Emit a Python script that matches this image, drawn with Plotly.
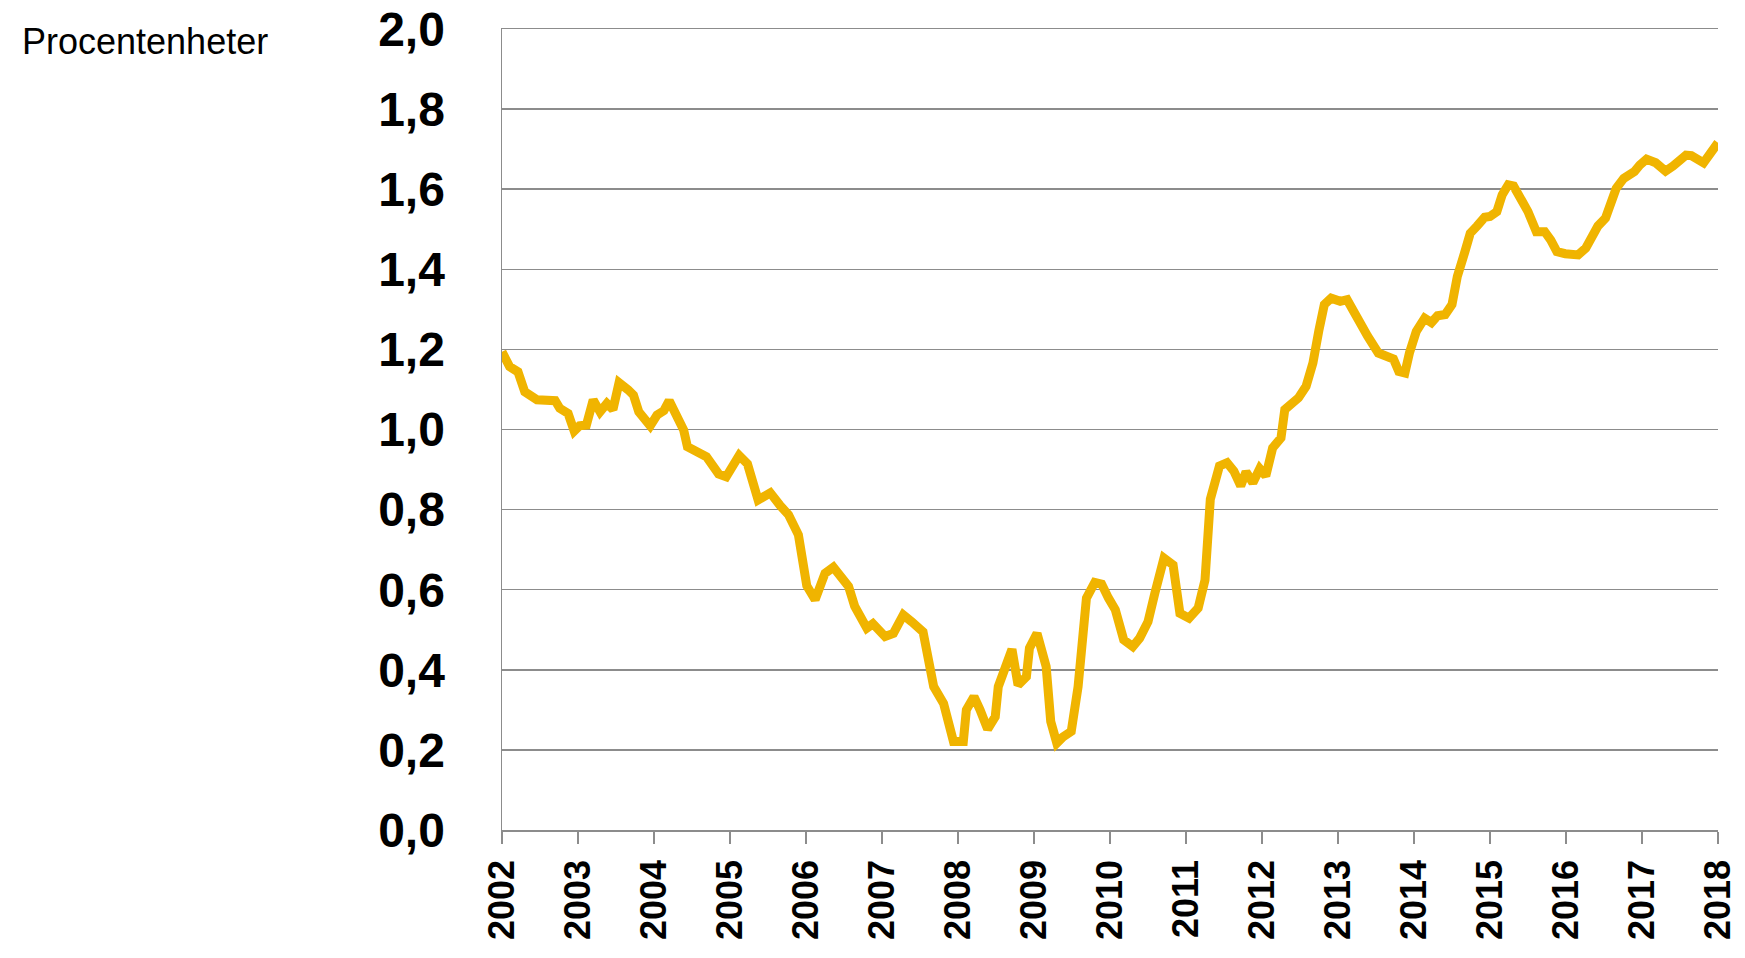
import plotly.graph_objects as go

# Decimal-year positions and values (percentage points)
years = [
    2002.00, 2002.10, 2002.21, 2002.30, 2002.46, 2002.70, 2002.76, 2002.87, 2002.95,
    2003.02, 2003.11, 2003.20, 2003.29, 2003.38, 2003.46, 2003.54, 2003.66, 2003.73, 2003.80, 2003.95,
    2004.04, 2004.13, 2004.20, 2004.28, 2004.39, 2004.44, 2004.58, 2004.69, 2004.85, 2004.95,
    2005.12, 2005.23, 2005.37, 2005.53, 2005.66, 2005.77, 2005.90,
    2006.01, 2006.12, 2006.25, 2006.36, 2006.56, 2006.64, 2006.80, 2006.88,
    2007.04, 2007.15, 2007.28, 2007.39, 2007.54, 2007.68, 2007.81, 2007.94,
    2008.07, 2008.11, 2008.21, 2008.29, 2008.39, 2008.49, 2008.53, 2008.71, 2008.79, 2008.90, 2008.94,
    2009.04, 2009.16, 2009.22, 2009.30, 2009.38, 2009.49, 2009.58, 2009.69, 2009.80, 2009.89, 2009.98,
    2010.07, 2010.18, 2010.30, 2010.39, 2010.50, 2010.59, 2010.71, 2010.83, 2010.92,
    2011.04, 2011.16, 2011.25, 2011.32, 2011.44, 2011.54, 2011.63, 2011.72, 2011.79, 2011.88, 2011.97,
    2012.05, 2012.14, 2012.25, 2012.30, 2012.37, 2012.48, 2012.58, 2012.67, 2012.75, 2012.82, 2012.91,
    2013.03, 2013.12, 2013.20, 2013.29, 2013.39, 2013.53, 2013.65, 2013.73, 2013.80, 2013.88, 2013.94,
    2014.03, 2014.14, 2014.23, 2014.31, 2014.41, 2014.50, 2014.57, 2014.67, 2014.74, 2014.83, 2014.93,
    2015.00, 2015.09, 2015.16, 2015.24, 2015.31, 2015.40, 2015.50, 2015.61, 2015.72, 2015.80, 2015.88, 2015.99,
    2016.09, 2016.16, 2016.26, 2016.33, 2016.42, 2016.52, 2016.59, 2016.66, 2016.76, 2016.90, 2016.97,
    2017.06, 2017.18, 2017.31, 2017.41, 2017.49, 2017.58, 2017.65, 2017.75, 2017.81, 2018.00,
]
values = [
    1.194, 1.157, 1.144, 1.094, 1.074, 1.072, 1.053, 1.040, 0.996,
    1.009, 1.011, 1.074, 1.044, 1.065, 1.050, 1.117, 1.099, 1.086, 1.044, 1.009,
    1.036, 1.047, 1.072, 1.036, 0.999, 0.957, 0.942, 0.932, 0.889, 0.882,
    0.935, 0.914, 0.824, 0.842, 0.810, 0.787, 0.737,
    0.610, 0.575, 0.641, 0.656, 0.608, 0.559, 0.504, 0.515,
    0.483, 0.491, 0.537, 0.520, 0.495, 0.358, 0.316, 0.221,
    0.221, 0.300, 0.333, 0.300, 0.252, 0.283, 0.358, 0.451, 0.362, 0.383, 0.454,
    0.491, 0.408, 0.271, 0.217, 0.232, 0.246, 0.358, 0.579, 0.618, 0.614, 0.579,
    0.550, 0.475, 0.458, 0.479, 0.520, 0.591, 0.679, 0.662, 0.541,
    0.529, 0.554, 0.624, 0.826, 0.909, 0.917, 0.896, 0.859, 0.894, 0.867, 0.902,
    0.884, 0.954, 0.979, 1.050, 1.060, 1.079, 1.108, 1.166, 1.249, 1.312, 1.328,
    1.320, 1.324, 1.295, 1.267, 1.233, 1.191, 1.179, 1.176, 1.145, 1.141, 1.191,
    1.245, 1.278, 1.267, 1.284, 1.287, 1.312, 1.382, 1.444, 1.490, 1.508, 1.530,
    1.532, 1.544, 1.586, 1.611, 1.608, 1.582, 1.544, 1.494, 1.494, 1.473, 1.444, 1.439,
    1.434, 1.436, 1.453, 1.482, 1.508, 1.528, 1.561, 1.602, 1.627, 1.644, 1.660,
    1.675, 1.666, 1.645, 1.658, 1.669, 1.685, 1.684, 1.673, 1.666, 1.716,
]

x_tick_vals = list(range(2002, 2019))
x_tick_text = [str(y) for y in x_tick_vals]
y_tick_vals = [0.0, 0.2, 0.4, 0.6, 0.8, 1.0, 1.2, 1.4, 1.6, 1.8, 2.0]
unit_label = "Procentenheter"

LINE_COLOR = "#F0B400"
GRID_COLOR = "#8C8C8C"
FONT = "Liberation Sans, Arial, sans-serif"

fig = go.Figure()
fig.add_trace(go.Scatter(
    x=years, y=values, mode="lines",
    line=dict(color=LINE_COLOR, width=9),
    showlegend=False, hoverinfo="skip",
))

fig.update_layout(
    width=1745, height=958,
    margin=dict(l=502, r=27, t=29, b=128),
    paper_bgcolor="white", plot_bgcolor="white",
    separators=", ",
    font=dict(family=FONT, color="black"),
    xaxis=dict(
        range=[2002, 2018],
        tickmode="array", tickvals=x_tick_vals, ticktext=x_tick_text,
        tickangle=-90,
        tickfont=dict(family=FONT, size=36, color="black", weight="bold"),
        ticks="outside", ticklen=12, tickwidth=1.5, tickcolor=GRID_COLOR,
        showline=True, linecolor=GRID_COLOR, linewidth=1.5, mirror=True,
        showgrid=False, zeroline=False,
        ticklabelstandoff=2,
        ticklabeloverflow="allow",
        automargin=False,
    ),
    yaxis=dict(
        range=[0, 2.0],
        tickmode="array", tickvals=y_tick_vals,
        tickformat=".1f",
        tickfont=dict(family=FONT, size=48, color="black", weight="bold"),
        ticks="",
        showline=True, linecolor=GRID_COLOR, linewidth=1.5,
        showgrid=True, gridcolor=GRID_COLOR, gridwidth=1.5,
        zeroline=False,
        ticklabelstandoff=46,
        ticklabeloverflow="allow",
        automargin=False,
    ),
    annotations=[dict(
        text=unit_label, xref="paper", yref="paper",
        x=-0.3964, y=0.985, xanchor="left", yanchor="middle",
        showarrow=False, font=dict(family=FONT, size=36, color="black"),
    )],
)

fig.write_html(
    "out.html",
    config={"displayModeBar": False, "staticPlot": True},
    post_script="document.body.style.margin='0';",
)
